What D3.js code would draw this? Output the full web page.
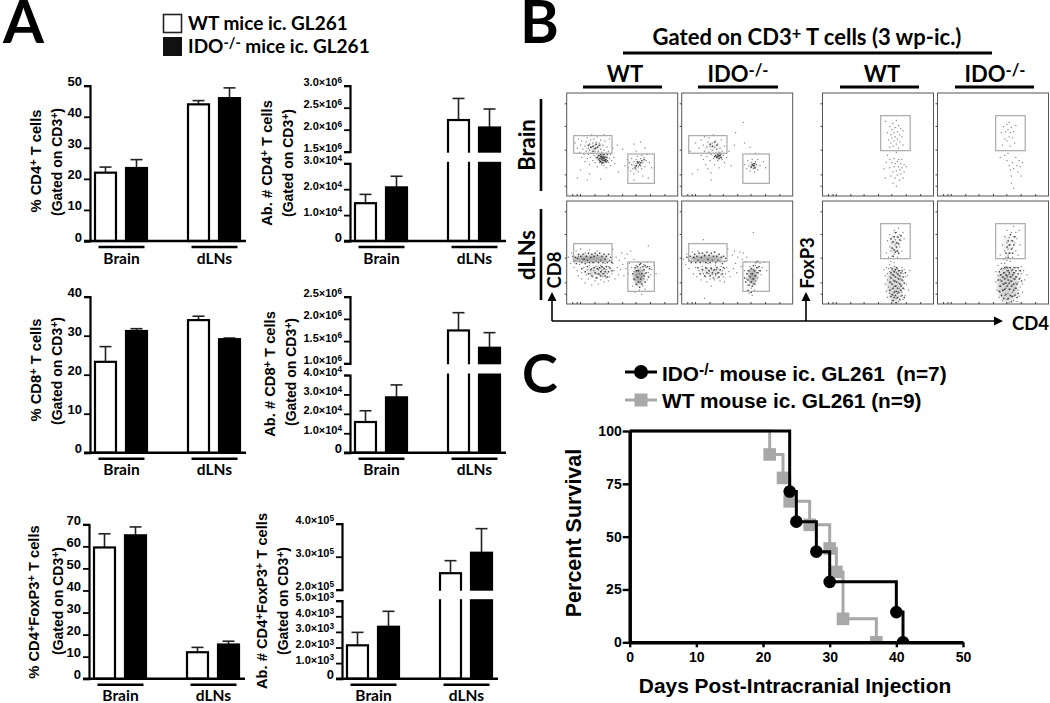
<!DOCTYPE html>
<html>
<head>
<meta charset="utf-8">
<script src="https://cdn.jsdelivr.net/npm/d3@7"></script>
<style>
  html, body { margin: 0; background: #fff; }
  svg { display: block; }
  text { fill: #000; }
  .arial { font-family: "Liberation Sans", Arial, sans-serif; font-weight: bold; }
  .calibri { font-family: Lato, "Open Sans", sans-serif; font-weight: bold; }
</style>
</head>
<body>
<svg id="fig" width="1050" height="703"></svg>
<script>
// ---- panel A data
var groups = ['Brain', 'dLNs'];
var genotypes = ['WT', 'IDO'];

var cd4Pct = [22, 23.5, 44, 46];
var cd4PctErr = [23.8, 26.2, 45.2, 49.3];
var cd4PctTicks = [0, 10, 20, 30, 40, 50];

var cd4Abs = [1.46e4, 2.07e4, 2.22e6, 2.05e6];
var cd4AbsErr = [1.8e4, 2.5e4, 2.71e6, 2.47e6];
var cd4AbsLowTicks = [0, 1e4, 2e4, 3e4];
var cd4AbsLowLabels = ['0', '1.0×10^4^', '2.0×10^4^', '3.0×10^4^'];
var cd4AbsHighTicks = [1.5e6, 2e6, 2.5e6, 3e6];
var cd4AbsHighLabels = ['1.5×10^6^', '2.0×10^6^', '2.5×10^6^', '3.0×10^6^'];

var cd8Pct = [23.3, 31.2, 34, 29.1];
var cd8PctErr = [27.2, 31.8, 35, 29.4];
var cd8PctTicks = [0, 10, 20, 30, 40];

var cd8Abs = [1.58e4, 2.85e4, 1.74e6, 1.35e6];
var cd8AbsErr = [2.16e4, 3.49e4, 2.14e6, 1.69e6];
var cd8AbsLowTicks = [0, 1e4, 2e4, 3e4, 4e4];
var cd8AbsLowLabels = ['0', '1.0×10^4^', '2.0×10^4^', '3.0×10^4^', '4.0×10^4^'];
var cd8AbsHighTicks = [1e6, 1.5e6, 2e6, 2.5e6];
var cd8AbsHighLabels = ['1.0×10^6^', '1.5×10^6^', '2.0×10^6^', '2.5×10^6^'];

var fox = [59.5, 65, 12, 15.5];
var foxErr = [65.7, 68.8, 14.2, 17];
var foxTicks = [0, 10, 20, 30, 40, 50, 60, 70];

var foxAbs = [2.14e3, 3.33e3, 2.5e5, 3.12e5];
var foxAbsErr = [2.97e3, 4.32e3, 2.88e5, 3.85e5];
var foxAbsLowTicks = [0, 1e3, 2e3, 3e3, 4e3, 5e3];
var foxAbsLowLabels = ['0', '1.0×10^3^', '2.0×10^3^', '3.0×10^3^', '4.0×10^3^', '5.0×10^3^'];
var foxAbsHighTicks = [2e5, 3e5, 4e5];
var foxAbsHighLabels = ['2.0×10^5^', '3.0×10^5^', '4.0×10^5^'];

// ---- panel C data
var idoDays = [0, 24, 25, 28, 30, 40, 41];
var idoSurvival = [100, 71.4, 57.1, 42.9, 28.6, 14.3, 0];
var wtDays = [0, 21, 23, 24, 27, 30, 31, 32, 37];
var wtSurvival = [100, 88.9, 77.8, 66.7, 55.6, 44.4, 33.3, 11.1, 0];
var dayTicks = [0, 10, 20, 30, 40, 50];
var survivalTicks = [0, 25, 50, 75, 100];

// ---- panel B data: events, x and y in % of plot, plus dense patches
var wtBrainCd8 = [[7,52],[9,47],[10,56],[11,43],[12,50],[13,38],[13,54],[14,46],[15,41],[15,59],[16,34],[16,49],[17,53],[17,44],[18,37],[18,57],[19,47],[19,41],[20,51],[20,31],[20,45],[21,55],[21,38],[22,48],[22,42],[22,60],[23,35],[23,52],[24,46],[24,40],[24,56],[25,50],[25,33],[25,44],[26,38],[26,53],[26,47],[27,42],[27,58],[27,29],[28,49],[28,36],[28,44],[29,52],[29,40],[29,33],[30,46],[30,55],[30,37],[31,43],[31,31],[31,39],[32,50],[32,35],[32,41],[33,60],[33,37],[33,30],[33,45],[34,39],[34,33],[34,54],[35,42],[35,36],[35,28],[36,48],[36,38],[37,33],[37,44],[38,56],[38,37],[39,41],[39,30],[40,35],[41,47],[42,38],[43,32],[45,50],[46,24],[50,46],[12,26],[9,18],[20,22],[30,17],[18,16],[60,51],[62,44],[66,53],[70,47],[52,30],[54,36],[55,28],[56,33],[57,25],[58,31],[58,37],[59,27],[60,34],[60,22],[61,30],[62,36],[62,26],[63,32],[63,39],[64,29],[64,24],[65,34],[66,30],[66,37],[67,27],[67,40],[68,33],[69,38],[70,29],[71,35],[72,41],[74,33],[76,28],[60,16],[68,20],[73,18]];
var wtBrainCd8Core = [[27,38],[28,40],[29,37],[29,35],[30,39],[30,34],[30,41],[31,36],[31,33],[31,38],[32,37],[32,39],[32,33],[33,35],[33,41],[33,38],[34,36],[34,35],[35,38],[35,34],[36,35],[36,41],[19,50],[21,48],[23,49],[25,47],[26,51],[27,48],[29,50],[23,44],[63,34],[64,33],[65,31],[66,33],[62,30],[61,28],[67,35],[69,36]];
var idoBrainCd8 = [[7,44],[12,52],[15,47],[17,40],[17,55],[19,36],[19,50],[20,44],[20,58],[21,31],[22,48],[22,39],[23,53],[23,27],[24,43],[24,57],[25,35],[25,49],[26,41],[26,23],[27,52],[27,45],[28,37],[28,60],[29,48],[29,31],[30,42],[30,54],[31,39],[31,46],[32,35],[32,51],[33,43],[33,28],[34,38],[34,47],[35,41],[35,55],[36,36],[36,44],[37,40],[38,33],[38,49],[40,38],[42,44],[44,30],[9,22],[14,26],[26,16],[48,62],[55,72],[47,50],[56,52],[61,48],[66,42],[56,31],[58,27],[59,35],[60,30],[61,25],[62,33],[62,28],[63,31],[63,36],[64,27],[64,32],[65,30],[65,24],[66,34],[66,28],[67,31],[68,26],[68,36],[70,30],[73,34],[75,28]];
var idoBrainCd8Core = [[29,39],[30,40],[31,38],[32,39],[32,41],[33,40],[33,37],[34,40],[34,42],[35,38],[25,51],[27,49],[29,53],[31,50],[63,31],[64,30],[65,32],[65,28],[62,29]];
var wtLnCd8 = [[1,46],[3,40],[4,50],[6,36],[7,43],[8,52],[9,33],[10,47],[10,28],[11,39],[12,54],[13,31],[13,25],[14,44],[15,36],[16,21],[16,50],[17,29],[18,41],[18,34],[19,25],[20,38],[20,53],[21,30],[22,19],[22,35],[23,27],[24,41],[24,33],[25,23],[26,37],[26,30],[27,52],[27,26],[28,34],[28,20],[29,29],[30,38],[30,24],[31,33],[32,27],[32,36],[33,22],[33,30],[34,40],[35,26],[35,34],[36,30],[37,37],[37,23],[38,27],[39,35],[40,30],[41,54],[41,40],[42,33],[43,25],[44,46],[45,36],[46,29],[47,43],[48,34],[49,50],[50,39],[51,28],[52,45],[53,35],[54,49],[55,30],[56,40],[57,52],[58,36],[59,18],[60,32],[60,44],[61,24],[61,12],[62,38],[62,29],[63,19],[63,33],[64,26],[64,41],[65,14],[65,30],[66,22],[66,36],[67,10],[67,27],[68,18],[68,33],[69,25],[69,39],[70,30],[70,15],[71,36],[72,24],[72,41],[73,31],[74,37],[75,29],[76,34],[78,38],[80,30],[73,57]];
var wtLnCd8Core = [[5,47],[6,42],[7,46],[8,40],[9,45],[10,49],[11,42],[12,47],[13,41],[14,49],[15,44],[16,40],[17,47],[18,43],[19,50],[20,41],[21,46],[22,49],[23,41],[24,47],[25,50],[26,42],[27,48],[28,41],[29,50],[30,43],[31,47],[32,41],[33,49],[34,44],[35,47],[36,41],[37,49],[38,43],[39,46],[40,41],[13,35],[16,32],[18,37],[19,30],[21,34],[22,28],[24,36],[25,31],[26,26],[27,35],[28,30],[29,36],[30,32],[30,28],[31,37],[32,30],[33,35],[34,28],[34,32],[35,37],[36,27],[37,32],[38,36],[40,33],[59,30],[60,25],[61,36],[62,20],[62,33],[63,27],[63,37],[64,22],[64,33],[65,17],[65,39],[66,25],[66,40],[67,30],[67,20],[68,37],[69,28],[69,34],[70,22],[70,38],[71,31],[72,37],[73,27],[74,35]];
var idoBrainPad = [];
var idoLnCd8 = [[1,44],[3,39],[4,49],[6,35],[8,42],[9,51],[10,30],[11,45],[12,36],[13,27],[14,52],[15,33],[16,42],[17,24],[18,37],[19,30],[20,47],[21,27],[22,35],[22,22],[23,40],[24,30],[25,25],[26,36],[26,18],[27,29],[28,33],[29,24],[30,38],[30,28],[31,34],[32,26],[33,31],[34,23],[35,37],[35,29],[36,33],[37,27],[38,35],[38,22],[39,30],[40,36],[41,54],[42,32],[43,27],[45,48],[46,35],[47,52],[48,40],[49,31],[50,46],[52,51],[53,37],[54,44],[55,50],[56,33],[57,41],[58,25],[58,46],[59,19],[59,33],[60,11],[60,28],[61,22],[61,37],[62,16],[62,30],[63,9],[63,25],[64,20],[64,34],[65,14],[65,28],[66,38],[66,23],[67,31],[67,42],[68,26],[68,36],[69,33],[70,40],[71,29],[72,36],[74,41],[76,33],[64,70],[19,63],[20,6]];
var idoLnCd8Core = [[4,46],[6,43],[7,47],[8,41],[10,46],[11,49],[12,41],[13,47],[14,43],[15,50],[16,41],[17,46],[18,50],[19,42],[20,48],[21,41],[22,51],[23,44],[24,48],[25,41],[26,50],[27,43],[28,47],[29,51],[30,41],[31,47],[32,43],[33,49],[34,42],[35,46],[36,40],[37,47],[38,42],[39,45],[14,36],[16,30],[18,34],[20,28],[21,36],[22,31],[24,33],[25,28],[26,35],[27,31],[28,26],[29,34],[30,30],[31,36],[32,31],[33,27],[34,34],[36,30],[37,36],[56,26],[57,22],[58,30],[59,24],[59,14],[60,33],[60,19],[61,27],[62,35],[62,22],[62,12],[63,30],[63,18],[64,38],[64,25],[65,33],[65,20],[66,41],[66,28],[67,36],[68,31],[68,42],[69,37],[70,33]];
var wtBrainFox = [[56,73],[58,62],[59,55],[60,68],[60,48],[61,60],[61,52],[62,65],[62,57],[63,71],[63,49],[64,62],[64,54],[65,67],[65,58],[66,74],[66,51],[67,63],[67,56],[68,69],[68,47],[69,60],[69,53],[70,66],[71,58],[72,50],[72,64],[58,40],[60,36],[60,28],[61,20],[62,33],[63,24],[63,13],[64,37],[64,29],[65,18],[65,32],[66,25],[66,10],[67,34],[67,21],[68,29],[68,36],[69,16],[69,26],[70,32],[70,22],[71,28],[71,36],[72,18],[73,31],[73,24],[75,29],[55,27],[56,18],[57,33],[66,43]];
var idoBrainFox = [[57,62],[58,50],[59,68],[60,56],[61,63],[62,70],[62,54],[63,65],[64,58],[64,72],[65,49],[65,62],[66,67],[67,57],[68,63],[69,52],[70,69],[60,40],[56,38],[62,35],[64,30],[63,42],[65,26],[66,20],[66,13],[67,33],[68,8],[68,27],[70,38],[71,30],[72,24],[73,35],[74,29],[75,20],[76,33]];
var wtLnFox = [[57,50],[58,62],[59,46],[60,56],[60,68],[61,52],[62,60],[62,47],[63,66],[63,54],[64,72],[64,49],[65,58],[65,63],[66,52],[66,70],[67,60],[67,46],[68,65],[68,74],[69,56],[69,68],[70,62],[71,52],[72,70],[73,64],[60,39],[61,42],[64,41],[55,34],[56,28],[56,20],[57,36],[57,13],[58,30],[58,24],[58,7],[59,35],[59,17],[60,27],[60,32],[60,11],[61,21],[61,36],[62,4],[62,29],[62,15],[63,24],[63,33],[63,9],[64,18],[64,28],[64,37],[65,2],[65,23],[65,13],[66,31],[66,6],[66,18],[67,26],[67,35],[67,11],[68,21],[68,3],[68,29],[69,15],[69,33],[70,8],[70,25],[71,19],[71,36],[71,12],[72,30],[72,5],[72,23],[73,15],[73,34],[74,27],[74,9],[75,20],[76,28],[77,14],[78,33]];
var wtLnFoxCore = [[60,22],[60,14],[61,31],[61,26],[61,8],[62,20],[62,35],[62,10],[63,29],[63,16],[63,4],[64,23],[64,32],[64,12],[64,7],[65,27],[65,18],[65,34],[65,9],[66,22],[66,13],[66,36],[66,2],[67,30],[67,16],[67,7],[68,25],[68,33],[68,12],[69,20],[69,28],[69,5],[70,14],[70,31],[70,18],[71,24],[71,9],[71,33],[72,16],[72,27],[73,21],[73,7],[74,31],[62,55],[63,61],[64,53],[64,66],[65,51],[65,70],[66,60],[66,56],[67,66],[67,52],[68,59],[68,50],[69,63],[70,67],[63,47],[61,64]];
var idoLnFox = [[56,48],[58,58],[59,44],[60,66],[60,52],[61,46],[62,60],[62,72],[63,54],[63,48],[64,65],[65,58],[65,50],[66,70],[66,62],[67,55],[67,46],[68,76],[68,66],[69,60],[70,52],[70,70],[71,64],[72,48],[73,72],[74,58],[60,40],[62,43],[65,42],[52,32],[52,22],[53,14],[54,38],[54,28],[55,7],[55,18],[56,34],[56,24],[56,12],[57,40],[57,29],[58,4],[58,20],[59,35],[59,14],[59,26],[60,9],[60,31],[60,21],[61,37],[61,16],[62,26],[62,5],[62,33],[63,19],[63,11],[64,29],[64,36],[64,2],[65,23],[65,15],[66,33],[66,8],[66,27],[67,19],[67,12],[68,36],[68,4],[68,25],[69,16],[69,31],[70,21],[70,10],[71,36],[71,27],[71,3],[72,14],[72,22],[73,33],[73,8],[74,26],[74,17],[75,37],[75,30],[76,20],[76,12],[77,33],[78,24],[80,29]];
var idoLnFoxCore = [[54,24],[55,32],[55,13],[56,29],[56,18],[57,35],[57,23],[57,9],[58,27],[58,14],[59,31],[59,20],[59,6],[60,25],[60,36],[60,15],[61,29],[61,21],[61,10],[62,18],[62,36],[62,28],[63,24],[63,33],[63,6],[64,15],[64,21],[64,31],[65,9],[65,27],[65,36],[66,18],[66,23],[66,3],[67,29],[67,34],[67,8],[68,20],[68,14],[68,31],[69,25],[69,36],[69,9],[70,27],[70,16],[70,33],[71,20],[71,7],[72,30],[72,36],[72,11],[73,25],[74,33],[75,23],[62,56],[63,62],[64,50],[64,58],[65,68],[66,54],[67,62],[67,50],[68,58],[69,66],[63,46],[61,50]];

var wtBrainCd8Dense = [[25,47,9,5,.1],[31,37,5,3.5,.32],[63,30,5,4,.12]];
var idoBrainCd8Dense = [[28,46,8,6,.08],[33,38,4,3,.16],[65,30,3,3,.18]];
var wtLnCd8Dense = [[22,44,16,3,.6],[28,32,10,5,.2],[65,27,5,8,.5]];
var idoLnCd8Dense = [[22,44,15,3,.55],[26,32,10,3.5,.2],[64,27,4,8,.5]];
var wtBrainFoxDense = [];
var idoBrainFoxDense = [];
var wtLnFoxDense = [[64,58,4,9,.12],[65,19,7,17,.25]];
var idoLnFoxDense = [[63,58,4,10,.1],[63,19,9,17,.28]];

var cd8Gates = [[6.3, 41.5, 40.8, 58.6], [55.1, 12.3, 79, 40.8]];
var foxGate = [[52.4, 44, 79, 78]];

var svg = d3.select('#fig');
var black = '#000';
var grey = '#a8a8a8';

// "^" toggles superscript
function markup(sel, str) {
  sel.text(null);
  str.split('^').forEach(function (part, i) {
    if (!part) return;
    var sup = i % 2 === 1;
    sel.append('tspan')
      .attr('dy', sup ? '-0.38em' : (i > 0 ? '0.27em' : 0))
      .attr('font-size', sup ? '75%' : null)
      .text(part);
  });
}

function label(x, y, str, size, cls, rotate, anchor) {
  var t = svg.append('text')
    .attr('class', cls)
    .attr('font-size', size)
    .attr('text-anchor', anchor || 'middle')
    .attr('transform', 'translate(' + x + ',' + y + ')' + (rotate ? ' rotate(-90)' : ''));
  markup(t, str);
  return t;
}

function hline(x1, x2, y, w, c) {
  svg.append('line').attr('x1', x1).attr('x2', x2).attr('y1', y).attr('y2', y)
    .attr('stroke', c || black).attr('stroke-width', w);
}
function vline(x, y1, y2, w, c) {
  svg.append('line').attr('x1', x).attr('x2', x).attr('y1', y1).attr('y2', y2)
    .attr('stroke', c || black).attr('stroke-width', w);
}

function leftAxis(x, scale, ticks, labels, size, w) {
  var axis = d3.axisLeft(scale).tickValues(ticks).tickSizeOuter(0).tickSize(6).tickPadding(2)
    .tickFormat(function (d, i) { return labels ? labels[i] : String(d); });
  var g = svg.append('g').attr('transform', 'translate(' + x + ',0)').call(axis);
  g.select('.domain').attr('stroke-width', w).attr('stroke', black);
  g.selectAll('line').attr('stroke-width', 1.8).attr('stroke', black);
  g.selectAll('text').attr('class', 'arial').attr('font-family', null)
    .attr('font-size', function (d) { return d === 0 ? 13 : size; }) // the 0 is set larger on the broken axes too
    .each(function (d, i) { markup(d3.select(this), labels ? labels[i] : String(d)); });
}

function barPanel(p) {
  var yLow = d3.scaleLinear().domain(p.low.domain).range(p.low.range);
  var yHigh = p.high ? d3.scaleLinear().domain(p.high.domain).range(p.high.range) : null;
  var y = function (v) { return (yHigh && v >= p.high.domain[0]) ? yHigh(v) : yLow(v); };
  var x0 = d3.scaleBand().domain(groups).range([p.x + 5, p.x + 150]).paddingInner(0.441);
  var x1 = d3.scaleBand().domain(genotypes).range([0, x0.bandwidth()]).paddingInner(0.323);
  var base = p.low.range[0];

  p.values.forEach(function (v, i) {
    var left = x0(groups[Math.floor(i / 2)]) + x1(genotypes[i % 2]);
    var mid = left + x1.bandwidth() / 2;
    vline(mid, y(v), y(p.errors[i]), 1.6, '#222');
    hline(mid - 6, mid + 6, y(p.errors[i]), 1.6, '#222');
    svg.append('rect')
      .attr('x', left).attr('y', y(v))
      .attr('width', x1.bandwidth()).attr('height', base - y(v))
      .attr('fill', i % 2 ? black : '#fff')
      .attr('stroke', black).attr('stroke-width', 2.2);
  });

  if (yHigh) {
    var gapTop = yHigh(p.high.domain[0]) + 1;
    var gapBottom = yLow(p.low.domain[1]) - 1.5;
    svg.append('rect')
      .attr('x', x0('dLNs') - 4).attr('y', gapTop)
      .attr('width', x0.bandwidth() + 8).attr('height', gapBottom - gapTop)
      .attr('fill', '#fff');
    leftAxis(p.x, yHigh, p.high.ticks, p.high.labels, 11, 2.2);
  }
  leftAxis(p.x, yLow, p.low.ticks, p.low.labels, p.low.labels ? 11 : 13, 2.2);
  hline(p.x - 6, p.x + 156, base, 2.4);

  groups.forEach(function (g) {
    var c = x0(g) + x0.bandwidth() / 2 + 0.5;
    hline(c - 23, c + 23, base + 6, 2.6);
    label(c, base + 22.5, g, 15.5, 'calibri');
  });

  label(p.label1[0], p.label1[1], p.text1, 14.7, 'arial', true);
  label(p.label2[0], p.label2[1], '(Gated on CD3^+^)', 14, 'arial', true);
}

barPanel({ x: 90, values: cd4Pct, errors: cd4PctErr,
  low: { domain: [0, 50], range: [241, 85.7], ticks: cd4PctTicks },
  text1: '% CD4^+^ T cells', label1: [41, 161], label2: [62, 162] });

barPanel({ x: 350, values: cd4Abs, errors: cd4AbsErr,
  low: { domain: [0, 3e4], range: [241, 163.3], ticks: cd4AbsLowTicks, labels: cd4AbsLowLabels },
  high: { domain: [1.5e6, 3e6], range: [151.7, 85.7], ticks: cd4AbsHighTicks, labels: cd4AbsHighLabels },
  text1: 'Ab. # CD4^+^ T cells', label1: [272, 163], label2: [293, 163] });

barPanel({ x: 90, values: cd8Pct, errors: cd8PctErr,
  low: { domain: [0, 40], range: [452.7, 296.7], ticks: cd8PctTicks },
  text1: '% CD8^+^ T cells', label1: [41, 370], label2: [62, 371] });

barPanel({ x: 350, values: cd8Abs, errors: cd8AbsErr,
  low: { domain: [0, 4e4], range: [452.7, 375], ticks: cd8AbsLowTicks, labels: cd8AbsLowLabels },
  high: { domain: [1e6, 2.5e6], range: [363.3, 296.7], ticks: cd8AbsHighTicks, labels: cd8AbsHighLabels },
  text1: 'Ab. # CD8^+^ T cells', label1: [275, 374], label2: [296, 372] });

barPanel({ x: 89, values: fox, errors: foxErr,
  low: { domain: [0, 70], range: [678.7, 524.3], ticks: foxTicks },
  text1: '% CD4^+^FoxP3^+^ T cells', label1: [39, 602], label2: [63, 601] });

barPanel({ x: 342, values: foxAbs, errors: foxAbsErr,
  low: { domain: [0, 5e3], range: [678.7, 600.7], ticks: foxAbsLowTicks, labels: foxAbsLowLabels },
  high: { domain: [2e5, 4e5], range: [589.7, 523.7], ticks: foxAbsHighTicks, labels: foxAbsHighLabels },
  text1: 'Ab. # CD4^+^FoxP3^+^ T cells', label1: [267, 601], label2: [288, 601] });

// ---- panel letters and the A legend
label(3, 43, 'A', 59, 'calibri', false, 'start');
label(520, 43, 'B', 59, 'calibri', false, 'start');
label(522, 393, 'C', 54, 'calibri', false, 'start');

svg.append('rect').attr('x', 163.5).attr('y', 14.5).attr('width', 18).attr('height', 18)
  .attr('fill', '#fff').attr('stroke', '#222').attr('stroke-width', 1.6);
svg.append('rect').attr('x', 163).attr('y', 37).attr('width', 19).attr('height', 19).attr('fill', '#111');
label(188, 30, 'WT mice ic. GL261', 19, 'calibri', false, 'start');
label(188, 53, 'IDO^-/-^ mice ic. GL261', 19, 'calibri', false, 'start');

// ---- panel B
svg.append('defs').append('filter').attr('id', 'soft')
  .attr('x', '-30%').attr('y', '-30%').attr('width', '160%').attr('height', '160%')
  .append('feGaussianBlur').attr('stdDeviation', 1.4);

function dotPlot(p) {
  var px = d3.scaleLinear().domain([0, 100]).range([p.x, p.x + 111]);
  var py = d3.scaleLinear().domain([0, 100]).range([p.y + 103, p.y]);
  var g = svg.append('g');

  g.append('g').attr('filter', 'url(#soft)').selectAll('ellipse').data(p.dense).join('ellipse')
    .attr('cx', function (d) { return px(d[0]); })
    .attr('cy', function (d) { return py(d[1]); })
    .attr('rx', function (d) { return px(d[2]) - px(0); })
    .attr('ry', function (d) { return py(0) - py(d[3]); })
    .attr('fill', '#666').attr('opacity', function (d) { return d[4]; });

  g.append('g').selectAll('rect').data(p.dots).join('rect')
    .attr('x', function (d) { return px(d[0]); })
    .attr('y', function (d) { return py(d[1]); })
    .attr('width', 1.2).attr('height', 1.2)
    .attr('fill', '#333').attr('opacity', 0.6);

  g.append('g').selectAll('rect').data(p.core || []).join('rect')
    .attr('x', function (d) { return px(d[0]); })
    .attr('y', function (d) { return py(d[1]); })
    .attr('width', 1.5).attr('height', 1.5)
    .attr('fill', '#111').attr('opacity', 0.75);

  g.append('g').selectAll('rect').data(p.gates).join('rect')
    .attr('x', function (d) { return px(d[0]); })
    .attr('y', function (d) { return py(d[3]); })
    .attr('width', function (d) { return px(d[2]) - px(d[0]); })
    .attr('height', function (d) { return py(d[1]) - py(d[3]); })
    .attr('fill', 'none').attr('stroke', '#aaa').attr('stroke-width', 1.2);

  g.append('rect').attr('x', p.x).attr('y', p.y).attr('width', 111).attr('height', 103)
    .attr('fill', 'none').attr('stroke', '#555').attr('stroke-width', 1);

  var left = g.append('g').attr('transform', 'translate(' + p.x + ',0)')
    .call(d3.axisLeft(py).tickValues([10, 21, 45, 68, 90]).tickSize(2).tickFormat(''));
  var bottom = g.append('g').attr('transform', 'translate(0,' + (p.y + 103) + ')')
    .call(d3.axisTop(px).tickValues([5, 9, 12, 25, 37, 50, 62, 75, 88]).tickSize(2).tickFormat(''));
  left.selectAll('.domain').remove();
  bottom.selectAll('.domain').remove();
  left.selectAll('line').attr('stroke', '#444');
  bottom.selectAll('line').attr('stroke', '#444');
}

dotPlot({ x: 566.7, y: 93, dots: wtBrainCd8, core: wtBrainCd8Core, dense: wtBrainCd8Dense, gates: cd8Gates });
dotPlot({ x: 681.7, y: 93, dots: idoBrainCd8, core: idoBrainCd8Core, dense: idoBrainCd8Dense, gates: cd8Gates });
dotPlot({ x: 566.7, y: 201, dots: wtLnCd8, core: wtLnCd8Core, dense: wtLnCd8Dense, gates: cd8Gates });
dotPlot({ x: 681.7, y: 201, dots: idoLnCd8, core: idoLnCd8Core, dense: idoLnCd8Dense, gates: cd8Gates });
dotPlot({ x: 822.5, y: 93, dots: wtBrainFox, dense: wtBrainFoxDense, gates: foxGate });
dotPlot({ x: 937.5, y: 93, dots: idoBrainFox, dense: idoBrainFoxDense, gates: foxGate });
dotPlot({ x: 822.5, y: 201, dots: wtLnFox, core: wtLnFoxCore, dense: wtLnFoxDense, gates: foxGate });
dotPlot({ x: 937.5, y: 201, dots: idoLnFox, core: idoLnFoxCore, dense: idoLnFoxDense, gates: foxGate });

label(807, 45, 'Gated on CD3^+^ T cells (3 wp-ic.)', 22, 'calibri');
hline(623, 992, 53, 3);
[[625, 583, 662, 'WT'], [738, 698, 778, 'IDO^-/-^'], [882, 840, 919, 'WT'], [995, 955, 1034, 'IDO^-/-^']]
  .forEach(function (h) {
    label(h[0], 82, h[3], 22, 'calibri');
    hline(h[1], h[2], 87, 3);
  });
vline(541, 99, 191, 2.6);
vline(541, 209, 300, 2.6);
label(535, 145, 'Brain', 22, 'calibri', true);
label(535, 255, 'dLNs', 22, 'calibri', true);
label(561, 270, 'CD8', 18.5, 'calibri', true);
label(814, 263, 'FoxP3', 18.5, 'calibri', true);
label(1012, 330, 'CD4', 18.5, 'calibri', false, 'start');
vline(552, 321, 300, 1.6);
vline(806, 321, 300, 1.6);
hline(552, 995, 321, 1.6);
function arrow(points) {
  svg.append('path').attr('d', d3.line()(points)).attr('fill', black);
}
arrow([[552, 292], [547.5, 301], [556.5, 301]]);
arrow([[806, 292], [801.5, 301], [810.5, 301]]);
arrow([[1003, 321], [994, 316.5], [994, 325.5]]);

// ---- panel C
var sx = d3.scaleLinear().domain([0, 50]).range([629.7, 963]);
var sy = d3.scaleLinear().domain([0, 100]).range([642.3, 431]);
var stepLine = d3.line().curve(d3.curveStepAfter)
  .x(function (d) { return sx(d[0]); })
  .y(function (d) { return sy(d[1]); });

svg.select('defs').append('clipPath').attr('id', 'plotArea').append('rect')
  .attr('x', sx(0) - 10).attr('y', sy(100) - 10)
  .attr('width', sx(50) - sx(0) + 20).attr('height', sy(0) - sy(100) + 10);

var area = svg.append('g').attr('clip-path', 'url(#plotArea)');
var wtCurve = d3.zip(wtDays, wtSurvival);
var idoCurve = d3.zip(idoDays, idoSurvival);

area.append('path').attr('d', stepLine(wtCurve))
  .attr('fill', 'none').attr('stroke', grey).attr('stroke-width', 3);
area.append('g').selectAll('rect').data(wtCurve.slice(1)).join('rect')
  .attr('x', function (d) { return sx(d[0]) - 6.3; })
  .attr('y', function (d) { return sy(d[1]) - 6.3; })
  .attr('width', 12.6).attr('height', 12.6).attr('fill', grey);
area.append('path').attr('d', stepLine(idoCurve))
  .attr('fill', 'none').attr('stroke', black).attr('stroke-width', 3);
area.append('g').selectAll('circle').data(idoCurve.slice(1)).join('circle')
  .attr('cx', function (d) { return sx(d[0]); })
  .attr('cy', function (d) { return sy(d[1]); })
  .attr('r', 6.3).attr('fill', black);

var yAxisC = svg.append('g').attr('transform', 'translate(' + sx(0) + ',0)')
  .call(d3.axisLeft(sy).tickValues(survivalTicks).tickSize(7).tickSizeOuter(0).tickPadding(1));
var xAxisC = svg.append('g').attr('transform', 'translate(0,' + sy(0) + ')')
  .call(d3.axisBottom(sx).tickValues(dayTicks).tickSize(5).tickSizeOuter(0).tickPadding(5));
[yAxisC, xAxisC].forEach(function (a) {
  a.select('.domain').attr('stroke-width', 3.5).attr('stroke', black);
  a.selectAll('line').attr('stroke-width', 2.4).attr('stroke', black);
  a.selectAll('text').attr('class', 'arial').attr('font-size', 14).attr('font-family', null);
});

label(581, 533, 'Percent Survival', 21.5, 'arial', true);
label(795, 693, 'Days Post-Intracranial Injection', 20.9, 'arial');

hline(625, 657, 372, 3);
svg.append('circle').attr('cx', 641).attr('cy', 372).attr('r', 7).attr('fill', black);
hline(625, 657, 400, 3, grey);
svg.append('rect').attr('x', 634.5).attr('y', 393.5).attr('width', 13).attr('height', 13).attr('fill', grey);
label(662, 381, 'IDO^-/-^ mouse ic. GL261  (n=7)', 20.8, 'arial', false, 'start').attr('xml:space', 'preserve');
label(662, 408, 'WT mouse ic. GL261 (n=9)', 20.8, 'arial', false, 'start').attr('xml:space', 'preserve');
</script>
</body>
</html>
